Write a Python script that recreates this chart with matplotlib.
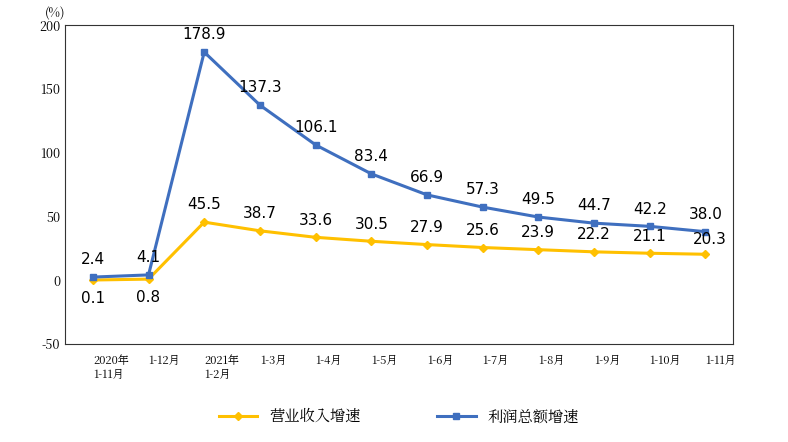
import matplotlib
matplotlib.use("Agg")
import matplotlib.pyplot as plt
from matplotlib import font_manager as fm
from matplotlib.transforms import ScaledTranslation

cjk = None
for f in fm.findSystemFonts():
    if "NotoSansCJK" in f.replace(" ", "") or "NotoSansSC" in f or "CJK" in f:
        cjk = f
        break
if cjk:
    fm.fontManager.addfont(cjk)
    cname = fm.FontProperties(fname=cjk).get_name()
    plt.rcParams["font.family"] = [cname, "DejaVu Sans"]
else:
    cname = "Noto Sans CJK SC"
    plt.rcParams["font.family"] = [cname, "DejaVu Sans"]

categories = ["2020年\n1-11月", "1-12月", "2021年\n1-2月", "1-3月", "1-4月", "1-5月",
              "1-6月", "1-7月", "1-8月", "1-9月", "1-10月", "1-11月"]
revenue = [0.1, 0.8, 45.5, 38.7, 33.6, 30.5, 27.9, 25.6, 23.9, 22.2, 21.1, 20.3]
profit = [2.4, 4.1, 178.9, 137.3, 106.1, 83.4, 66.9, 57.3, 49.5, 44.7, 42.2, 38.0]
yticks = [-50, 0, 50, 100, 150, 200]

fig = plt.figure(figsize=(7.88, 4.42), dpi=100)
ax = fig.add_axes([0.0825, 0.222, 0.848, 0.721])
x = list(range(len(categories)))
orange = "#FFC000"
ax.plot(x, revenue, color=orange, lw=2.2, marker="D", ms=4, label="营业收入增速")
ax.plot(x, profit, color="#3F6FBF", lw=2.2, marker="s", ms=4.5, label="利润总额增速")

for i, v in enumerate(profit):
    ax.annotate(f"{v:.1f}", (i, v), xytext=(0, 7), textcoords="offset points",
                ha="center", va="bottom", fontsize=11, family="DejaVu Sans")
for i, v in enumerate(revenue):
    if i < 2:
        off, va, dx = -8, "top", 0
    elif i == len(revenue) - 1:
        off, va, dx = 5, "bottom", 3
    else:
        off, va, dx = 7, "bottom", 0
    ax.annotate(f"{v:.1f}", (i, v), xytext=(dx, off), textcoords="offset points",
                ha="center", va=va, fontsize=11, family="DejaVu Sans")

ax.set_xlim(-0.5, 11.5)
ax.set_ylim(-50, 200)
ax.set_yticks(yticks)
ax.set_yticklabels([str(t) for t in yticks], fontsize=9)
ax.set_xticks(x)
ax.set_xticklabels(categories, fontsize=8)
for lab in ax.get_xticklabels():
    lab.set_horizontalalignment("left")
    lab.set_transform(lab.get_transform() + ScaledTranslation(-0.24, 0, fig.dpi_scale_trans))
ax.tick_params(axis="x", length=0, pad=8)
ax.tick_params(axis="y", length=0)
for s in ax.spines.values():
    s.set_color("#333333")
fig.text(0.07, 0.985, "(%)", fontsize=9, ha="center", va="top")
ax.legend(loc="upper center", bbox_to_anchor=(0.5, -0.16), ncol=2, frameon=False,
          fontsize=11, columnspacing=5, handlelength=2.5)
fig.savefig("out.png", dpi=100)
